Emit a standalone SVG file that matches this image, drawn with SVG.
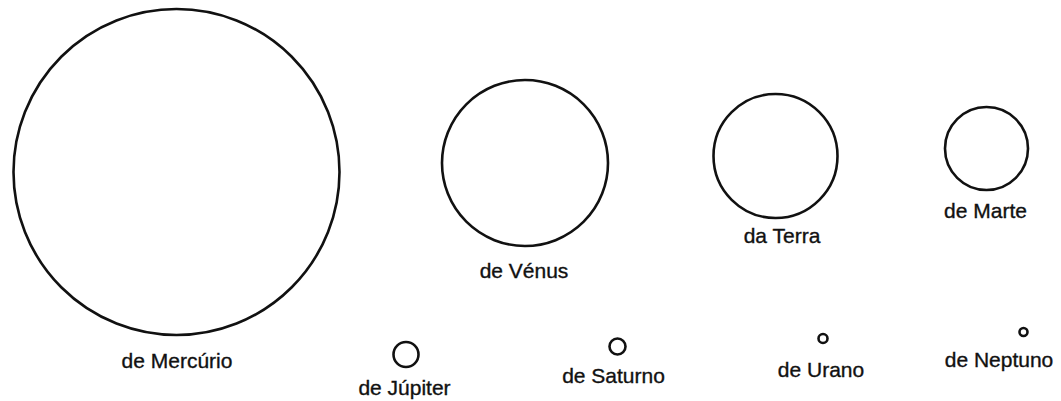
<svg xmlns="http://www.w3.org/2000/svg" width="1061" height="401" viewBox="0 0 1061 401">
<style>
.p{fill:none;stroke:#111;stroke-width:2.6}
.l{font-family:"Liberation Sans",Arial,sans-serif;font-size:21px;fill:#111;stroke:#111;stroke-width:0.35;text-anchor:middle}
</style>
<rect width="1061" height="401" fill="#fff"/>
<g id="mercurio"><circle class="p" cx="176.5" cy="172" r="163"/><text class="l" x="177" y="368">de Mercúrio</text></g>
<g id="venus"><circle class="p" cx="525" cy="163" r="83"/><text class="l" x="524" y="278">de Vénus</text></g>
<g id="terra"><circle class="p" cx="775.5" cy="156" r="62"/><text class="l" x="782" y="243">da Terra</text></g>
<g id="marte"><circle class="p" cx="986.5" cy="148.5" r="41.5"/><text class="l" x="985.5" y="218">de Marte</text></g>
<g id="jupiter"><circle class="p" cx="406" cy="354.5" r="12.5"/><text class="l" x="404.5" y="395">de Júpiter</text></g>
<g id="saturno"><circle class="p" cx="617.5" cy="346.5" r="8"/><text class="l" x="613.5" y="383">de Saturno</text></g>
<g id="urano"><circle class="p" cx="823" cy="338.5" r="4.5"/><text class="l" x="821" y="377">de Urano</text></g>
<g id="neptuno"><circle class="p" cx="1023.5" cy="332" r="4"/><text class="l" x="999" y="367">de Neptuno</text></g>
<g id="connectors"/>
</svg>
